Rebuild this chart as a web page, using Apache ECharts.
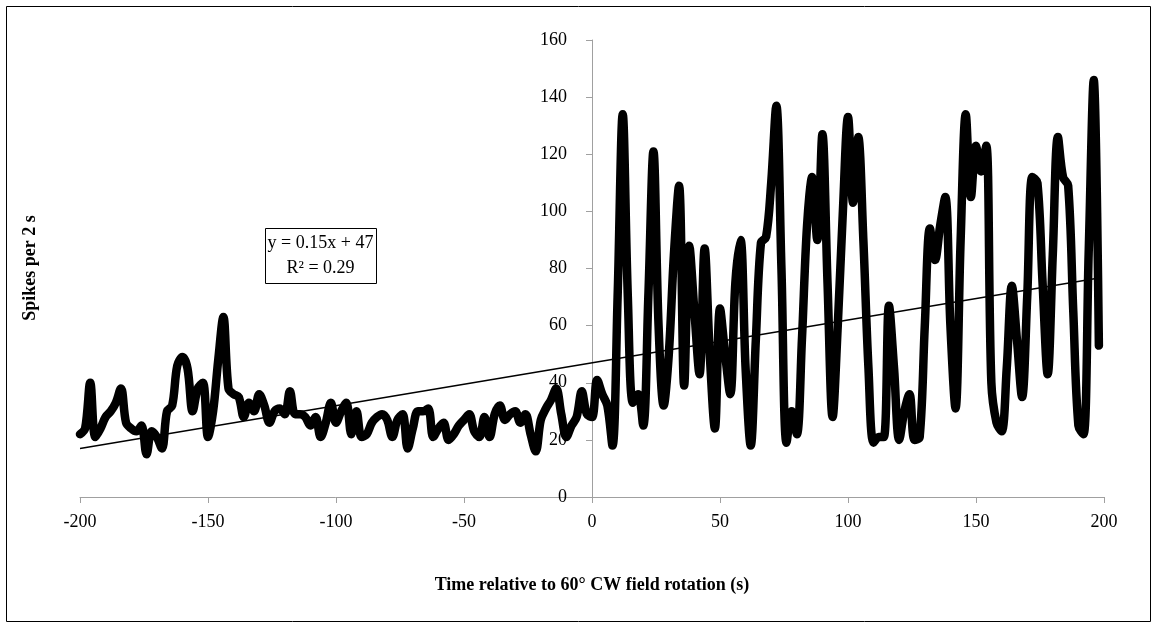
<!DOCTYPE html>
<html>
<head>
<meta charset="utf-8">
<script src="https://cdn.jsdelivr.net/npm/echarts@6/dist/echarts.min.js"></script>
<style>
html,body{margin:0;padding:0;background:#fff;}
#chart{width:1153px;height:624px;}
</style>
</head>
<body>
<div id="chart"></div>
<script>
// Time (s) relative to rotation, one bin every 2 s
const tStart = -200, tStep = 2;
// Spikes per 2 s before the rotation (t = -200 ... -2)
const spikesBefore = [
  22,24,40,21,24,28,30,33,38,26,
  24,23,25,15,23,21,17,30,32,46,
  49,45,30,38,40,21,30,48,63,38,
  36,35,28,33,30,36,32,26,30,31,
  29,37,29,29,28,25,28,21,26,33,
  26,30,33,22,30,21,22,26,28,29,
  27,21,27,29,17,24,30,30,31,21,
  24,26,20,22,25,27,29,23,21,28,
  21,29,32,27,29,30,26,29,22,16,
  27,31,34,38,29,21,25,28,37,29
];
// Spikes per 2 s after the rotation (t = 0 ... 198)
const spikesAfter = [
  28,41,36,32,18,70,134,70,33,36,
  25,70,121,60,32,50,85,109,39,88,
  65,43,87,50,24,66,50,36,75,90,
  45,18,55,89,91,110,137,80,19,30,
  22,55,95,112,90,127,75,28,60,100,
  133,103,126,90,45,19,21,21,67,45,
  20,30,36,20,21,60,94,83,95,105,
  60,31,90,134,105,123,114,123,40,26,
  23,45,74,55,35,70,112,110,75,43,
  85,126,112,109,65,25,22,85,146,53
];
// Linear trendline as displayed
const trendSlope = 0.15, trendIntercept = 47;
const eqLines = ['y = 0.15x + 47', 'R² = 0.29'];
const xTitle = 'Time relative to 60° CW field rotation (s)';
const yTitle = 'Spikes per 2 s';

const spikes = spikesBefore.concat(spikesAfter);
const times = spikes.map((_, i) => tStart + i * tStep);
const seriesData = times.map((t, i) => [t, spikes[i]]);
const tMin = times[0], tMax = times[times.length - 1];
const trendData = [[tMin, trendSlope * tMin + trendIntercept], [tMax, trendSlope * tMax + trendIntercept]];

const FONT = "'Liberation Serif', 'Times New Roman', serif";
const axisGray = '#a0a0a0';
const GRID_LEFT = 80, GRID_RIGHT = 49;
const plotWidth = 1153 - GRID_LEFT - GRID_RIGHT;
const X_MIN = -200, X_MAX = 200;
// shift the y axis (line, ticks and labels) to x = 0
const yAxisShift = -plotWidth * (0 - X_MIN) / (X_MAX - X_MIN);

const chart = echarts.init(document.getElementById('chart'), null, {renderer: 'canvas'});
chart.setOption({
  animation: false,
  backgroundColor: '#fff',
  grid: {left: GRID_LEFT, right: GRID_RIGHT, top: 40, bottom: 127, containLabel: false},
  xAxis: {
    type: 'value', min: X_MIN, max: X_MAX, interval: 50,
    axisLine: {show: true, onZero: false, lineStyle: {color: axisGray, width: 1}},
    axisTick: {show: true, length: 6, lineStyle: {color: axisGray}},
    axisLabel: {color: '#000', fontFamily: FONT, fontSize: 18, margin: 16},
    splitLine: {show: false}
  },
  yAxis: {
    type: 'value', min: 0, max: 160, interval: 20,
    offset: yAxisShift,
    axisLine: {show: true, onZero: false, lineStyle: {color: axisGray, width: 1}},
    axisTick: {show: true, length: 6, lineStyle: {color: axisGray}},
    axisLabel: {color: '#000', fontFamily: FONT, fontSize: 18, margin: 25},
    splitLine: {show: false}
  },
  series: [
    {
      type: 'line', data: seriesData, showSymbol: false, symbol: 'none',
      smooth: 0.35,
      lineStyle: {color: '#000', width: 8.5, join: 'round', cap: 'round'},
      z: 2
    },
    {
      type: 'line', data: trendData, showSymbol: false, symbol: 'none',
      lineStyle: {color: '#000', width: 1.5},
      z: 3
    }
  ],
  graphic: [
    {type: 'rect', left: 4, top: 4, shape: {width: 1144, height: 615},
     style: {fill: 'none', stroke: '#000', lineWidth: 1}, silent: true},
    {type: 'rect', left: 265, top: 228, shape: {width: 111, height: 55},
     style: {fill: '#fff', stroke: '#000', lineWidth: 1}, z: 10},
    {type: 'text', x: 320.5, y: 243, z: 11,
     style: {text: eqLines[0], font: "18px " + FONT, fill: '#000', align: 'center', verticalAlign: 'middle'}},
    {type: 'text', x: 320.5, y: 268, z: 11,
     style: {text: eqLines[1], font: "18px " + FONT, fill: '#000', align: 'center', verticalAlign: 'middle'}},
    {type: 'text', x: 592, y: 585,
     style: {text: xTitle, font: "bold 18px " + FONT, fill: '#000', align: 'center', verticalAlign: 'middle'}},
    {type: 'text', x: 30, y: 268, rotation: Math.PI / 2,
     style: {text: yTitle, font: "bold 18px " + FONT, fill: '#000', align: 'center', verticalAlign: 'middle'}}
  ]
});
</script>
</body>
</html>
